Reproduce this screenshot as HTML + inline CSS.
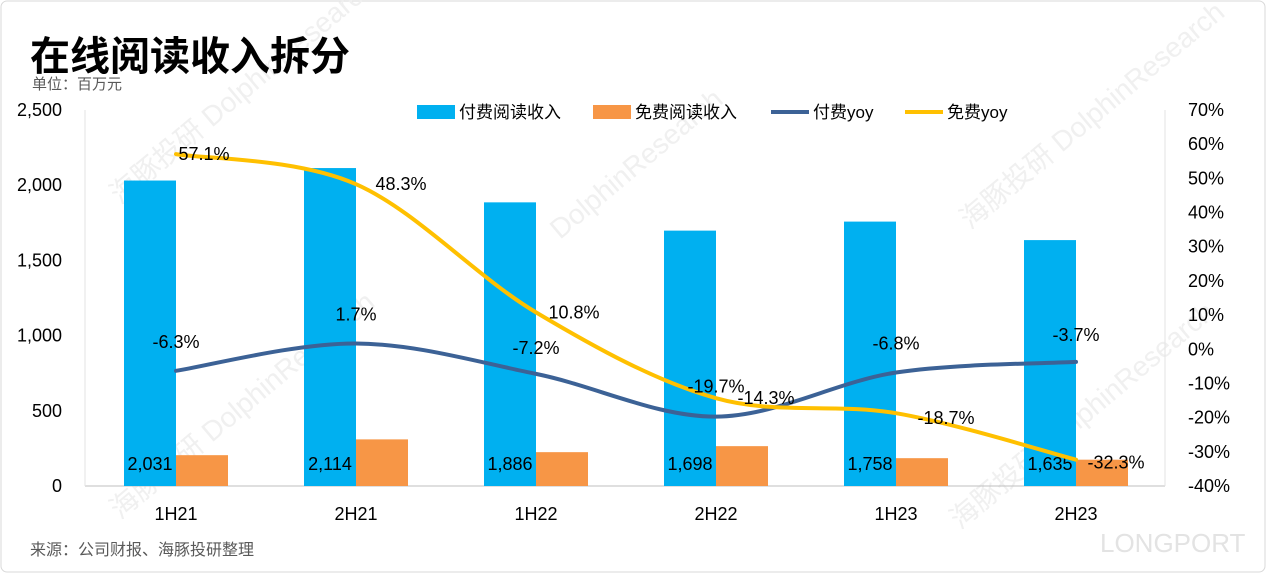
<!DOCTYPE html>
<html><head><meta charset="utf-8"><style>
html,body{margin:0;padding:0;background:#fff}
body{width:1268px;height:574px;overflow:hidden;font-family:"Liberation Sans","Noto Sans CJK SC",sans-serif}
</style></head><body>
<svg width="1268" height="574" xmlns="http://www.w3.org/2000/svg" font-family="Liberation Sans, Noto Sans CJK SC, sans-serif">
<rect x="1" y="1" width="1264" height="571" rx="6" fill="#fff" stroke="#d9d9d9"/>
<g fill="#f0f0f0" font-size="28">
<text transform="translate(120,205) rotate(-40)">海豚投研 DolphinResearch</text>
<text transform="translate(560,240) rotate(-40)">DolphinResearch</text>
<text transform="translate(970,230) rotate(-40)">海豚投研 DolphinResearch</text>
<text transform="translate(120,520) rotate(-40)">海豚投研 DolphinResearch</text>
<text transform="translate(960,530) rotate(-40)">海豚投研 DolphinResearch</text>
<text x="1100" y="552" font-size="26" fill="#e3e3e3">LONGPORT</text>
</g>
<text x="30" y="70" font-size="40" font-weight="bold" fill="#000">在线阅读收入拆分</text>
<text x="32" y="89" font-size="15" fill="#595959">单位：百万元</text>
<text x="30" y="555" font-size="16" fill="#595959">来源：公司财报、海豚投研整理</text>
<g id="axes"></g>
<g id="marks"></g>
<g id="legend" font-size="17">
<rect x="417" y="105" width="38" height="14" fill="#00b0f0"/>
<text x="459" y="118">付费阅读收入</text>
<rect x="593" y="105" width="38" height="14" fill="#f79646"/>
<text x="635" y="118">免费阅读收入</text>
<line x1="771" y1="112" x2="809" y2="112" stroke="#3c6296" stroke-width="4"/>
<text x="813" y="118">付费yoy</text>
<line x1="905" y1="112" x2="943" y2="112" stroke="#ffc000" stroke-width="4"/>
<text x="947" y="118">免费yoy</text>
</g>
</svg>
<script>
const categories=["1H21","2H21","1H22","2H22","1H23","2H23"];
const paidRevenue=[2031,2114,1886,1698,1758,1635];
const freeRevenue=[205,310,225,265,185,175];
const paidYoy=[-6.3,1.7,-7.2,-19.7,-6.8,-3.7];
const freeYoy=[57.1,48.3,10.8,-14.3,-18.7,-32.3];
const leftTicks=[0,500,1000,1500,2000,2500];
const rightTicks=[-40,-30,-20,-10,0,10,20,30,40,50,60,70];
// label offsets (styling)
const paidOff=[[0,-29],[0,-29],[0,-26],[0,-30],[0,-29],[0,-27]];
const freeOff=[[28,0],[45,0],[38,0],[50,0],[50,5],[40,3]];

const NS="http://www.w3.org/2000/svg";
const X0=85,X1=1165,Y0=486,Y1=110;
const band=(X1-X0)/categories.length;
const cx=i=>X0+band*(i+0.5)+1;
const yL=v=>Y0-(v/2500)*(Y0-Y1);
const yR=v=>Y0-((v+40)/110)*(Y0-Y1);
function mk(tag,attrs,parent,txt){const e=document.createElementNS(NS,tag);for(const k in attrs)e.setAttribute(k,attrs[k]);if(txt!==undefined)e.textContent=txt;parent.appendChild(e);return e;}
const ax=document.getElementById('axes'),mg=document.getElementById('marks');
let l=mk('line',{x1:X0,y1:Y0,x2:X1,y2:Y0,stroke:'#bfbfbf'},ax);


l=mk('line',{x1:X0,y1:Y1,x2:X0,y2:Y0,stroke:'#e3e3e3'},ax);


l=mk('line',{x1:X1,y1:Y1,x2:X1,y2:Y0,stroke:'#e3e3e3'},ax);


leftTicks.forEach(v=>{const t=mk('text',{x:62,y:yL(v)+6,'font-size':18,'text-anchor':'end'},ax,v.toLocaleString('en-US'));

});
rightTicks.forEach(v=>{const t=mk('text',{x:1188,y:yR(v)+6,'font-size':18},ax,v+'%');

});
categories.forEach((c,i)=>{const t=mk('text',{x:cx(i),y:520,'font-size':18,'text-anchor':'middle'},ax,c);

});
const bw=52;
categories.forEach((c,i)=>{
 let r=mk('rect',{x:cx(i)-bw,y:yL(paidRevenue[i]),width:bw,height:Y0-yL(paidRevenue[i]),fill:'#00b0f0'},mg);
 
 
 r=mk('rect',{x:cx(i),y:yL(freeRevenue[i]),width:bw,height:Y0-yL(freeRevenue[i]),fill:'#f79646'},mg);
 
 
 const t=mk('text',{x:cx(i)-bw/2,y:470,'font-size':18,'text-anchor':'middle'},mg,paidRevenue[i].toLocaleString('en-US'));
 
 
});
function smooth(pts){let d='M'+pts[0][0]+','+pts[0][1];for(let i=0;i<pts.length-1;i++){const p0=pts[i-1]||pts[i],p1=pts[i],p2=pts[i+1],p3=pts[i+2]||p2;const t=1/6;
d+=' C'+(p1[0]+(p2[0]-p0[0])*t)+','+(p1[1]+(p2[1]-p0[1])*t)+' '+(p2[0]-(p3[0]-p1[0])*t)+','+(p2[1]-(p3[1]-p1[1])*t)+' '+p2[0]+','+p2[1];}return d;}
const pPts=paidYoy.map((v,i)=>[cx(i),yR(v)]),fPts=freeYoy.map((v,i)=>[cx(i),yR(v)]);
let p=mk('path',{d:smooth(pPts),fill:'none',stroke:'#3c6296','stroke-width':4,'stroke-linecap':'round'},mg);


p=mk('path',{d:smooth(fPts),fill:'none',stroke:'#ffc000','stroke-width':4,'stroke-linecap':'round'},mg);


paidYoy.forEach((v,i)=>{const t=mk('text',{x:pPts[i][0]+paidOff[i][0],y:pPts[i][1]+paidOff[i][1]+6,'font-size':18,'text-anchor':'middle'},mg,v.toFixed(1)+'%');

});
freeYoy.forEach((v,i)=>{const t=mk('text',{x:fPts[i][0]+freeOff[i][0],y:fPts[i][1]+freeOff[i][1]+6,'font-size':18,'text-anchor':'middle'},mg,v.toFixed(1)+'%');

});
</script>
</body></html>
